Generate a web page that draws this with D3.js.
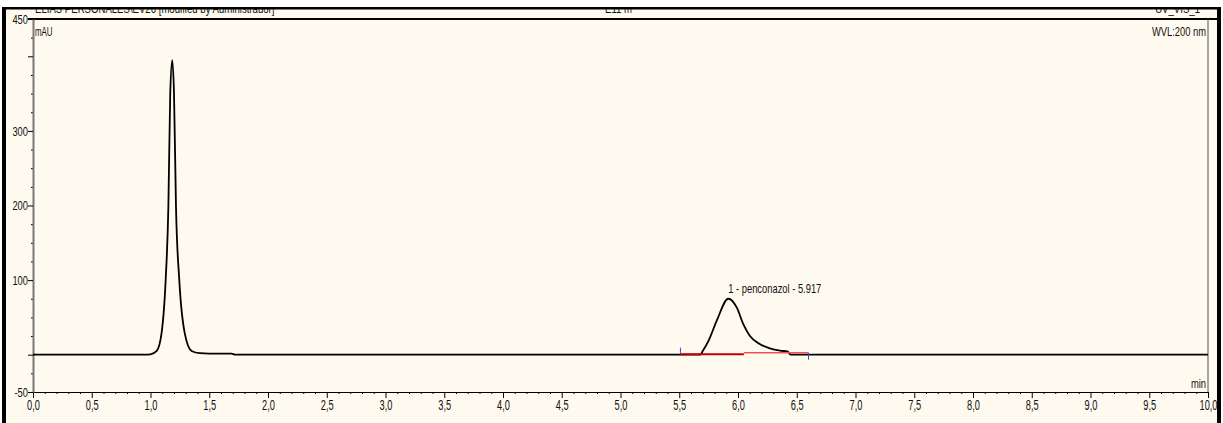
<!DOCTYPE html>
<html>
<head>
<meta charset="utf-8">
<script src="https://cdn.jsdelivr.net/npm/d3@7"></script>
<style>
  html, body { margin: 0; padding: 0; background: #ffffff; }
  svg { display: block; }
  text { font-family: "Liberation Sans", Arial, sans-serif; fill: #111; }
</style>
</head>
<body>
<svg id="chart" width="1223" height="423"></svg>
<script>
// ---- data ----
const traceTime = [0.00, 0.95, 1.00, 1.053, 1.095, 1.129, 1.152, 1.168, 1.185, 1.200, 1.217, 1.245, 1.290, 1.350, 1.420, 1.500, 1.690, 1.720,
                   5.500, 5.680, 5.700, 5.750, 5.820, 5.917, 5.990, 6.045, 6.100, 6.185, 6.270, 6.357, 6.420, 6.450, 10.00];
const traceValue = [0, 0, 0.5, 5, 30, 100, 198, 350, 395, 350, 198, 100, 30, 5, 2, 1.5, 1.5, 0,
                    0, 0, 5, 19, 46, 75, 63, 41, 25.5, 14.3, 8.6, 5.4, 4.3, 0, 0];

const peakLabel = "1 - penconazol - 5.917";
const peakTime = 5.917;
const peakHeight = 75;
const integStart = 5.51, integMid = 6.05, integEnd = 6.60;

const xMajorTicks = [0, 0.5, 1, 1.5, 2, 2.5, 3, 3.5, 4, 4.5, 5, 5.5, 6, 6.5, 7, 7.5, 8, 8.5, 9, 9.5, 10];
const xTickLabels = ["0,0","0,5","1,0","1,5","2,0","2,5","3,0","3,5","4,0","4,5","5,0","5,5","6,0","6,5","7,0","7,5","8,0","8,5","9,0","9,5","10,0"];
const yMajorTicks = [450, 400, 300, 200, 100, 0, -50];
const yTickLabels = ["450", "", "300", "200", "100", "", "-50"];

const headerLeft = "ELIAS PERSONALES\\EV26 [modified by Administrador]";
const headerMid = "E11 m";
const headerRight = "UV_VIS_1";
const yUnit = "mAU";
const xUnit = "min";
const wvl = "WVL:200 nm";

// ---- layout ----
const svg = d3.select("#chart");
const W = 1223, H = 423;
const x = d3.scaleLinear().domain([0, 10]).range([33, 1208]);
const y = d3.scaleLinear().domain([-50, 450]).range([392, 19]);

// condensed text helper: text drawn in a group, squeezed horizontally
function label(px, py, str, opts = {}) {
  const sx = opts.sx || 0.78, size = opts.size || 12;
  const g = svg.append("g").attr("transform", `translate(${px},${py}) scale(${sx},1)`);
  g.append("text").attr("x", 0).attr("y", 0).attr("font-size", size)
    .attr("text-anchor", opts.anchor || "start").attr("fill", opts.fill || "#111").text(str);
  return g;
}

// background
svg.append("rect").attr("x", 0).attr("y", 0).attr("width", W).attr("height", H).attr("fill", "#ffffff");
svg.append("rect").attr("x", 4).attr("y", 7).attr("width", 1215).attr("height", H - 7).attr("fill", "#fffaf0");

// header texts (clipped at the top by the frame)
label(35, 12.5, headerLeft, {sx: 0.8, fill: "#333"});
label(605, 12.5, headerMid, {sx: 0.8, fill: "#333"});
label(1200, 12.5, headerRight, {sx: 0.8, fill: "#333", anchor: "end"});
svg.append("rect").attr("x", 0).attr("y", 0).attr("width", W).attr("height", 7).attr("fill", "#ffffff");

// outer frame
svg.append("rect").attr("x", 2).attr("y", 7).attr("width", 1219).attr("height", 2.5).attr("fill", "#000");
svg.append("rect").attr("x", 2).attr("y", 7).attr("width", 4).attr("height", H - 7).attr("fill", "#000");
svg.append("rect").attr("x", 1217).attr("y", 7).attr("width", 4).attr("height", H - 7).attr("fill", "#000");

// plot top line
svg.append("line").attr("x1", 28).attr("x2", 1217).attr("y1", 19).attr("y2", 19)
  .attr("stroke", "#000").attr("stroke-width", 2);
// right plot border
svg.append("line").attr("x1", 1208).attr("x2", 1208).attr("y1", 19).attr("y2", 392)
  .attr("stroke", "#555").attr("stroke-width", 1);

// x axis
const xMinor = d3.range(0, 100).map(i => i / 10).filter(v => Math.abs(v * 2 - Math.round(v * 2)) > 1e-6);
svg.append("g").attr("transform", "translate(0,392)")
  .call(d3.axisBottom(x).tickValues(xMinor).tickSize(2).tickFormat(""))
  .call(g => g.select(".domain").remove())
  .call(g => g.selectAll("line").attr("stroke", "#000"));
const xAxis = svg.append("g").attr("transform", "translate(0,392)")
  .call(d3.axisBottom(x).tickValues(xMajorTicks).tickSize(6).tickSizeOuter(0)
    .tickFormat((d, i) => xTickLabels[i]));
xAxis.select(".domain").attr("stroke", "#000");
xAxis.selectAll("line").attr("stroke", "#000");
xAxis.selectAll("text").attr("font-size", 14).attr("y", 6).attr("dy", "0.85em").attr("fill", "#111")
  .attr("font-family", "\"Liberation Sans\", Arial, sans-serif")
  .attr("transform", "scale(0.66,1)");

// y axis
const yMinor = d3.range(-50, 451, 25).filter(v => v % 100 !== 0 && v !== -50 && v !== 450);
svg.append("g").attr("transform", "translate(33,0)")
  .call(d3.axisLeft(y).tickValues(yMinor).tickSize(2).tickFormat(""))
  .call(g => g.select(".domain").remove())
  .call(g => g.selectAll("line").attr("stroke", "#000"));
const yAxis = svg.append("g").attr("transform", "translate(33,0)")
  .call(d3.axisLeft(y).tickValues(yMajorTicks).tickSize(5).tickSizeOuter(0)
    .tickFormat((d, i) => yTickLabels[i]));
yAxis.select(".domain").attr("stroke", "#777").attr("stroke-width", 2);
yAxis.selectAll("line").attr("stroke", "#000");
yAxis.selectAll("text").attr("font-size", 13).attr("x", -5 / 0.72).attr("fill", "#111")
  .attr("font-family", "\"Liberation Sans\", Arial, sans-serif")
  .attr("transform", "scale(0.72,1)");

// unit labels
label(35, 36, yUnit, {sx: 0.66, size: 12});
label(1206, 36, wvl, {sx: 0.78, size: 12, anchor: "end"});
label(1206, 388, xUnit, {sx: 0.78, size: 12, anchor: "end"});

// trace
const trace = traceTime.map((t, i) => [t, traceValue[i]]);
const line = d3.line().x(d => x(d[0])).y(d => y(d[1])).curve(d3.curveMonotoneX);
svg.append("path").datum(trace).attr("d", line)
  .attr("fill", "none").attr("stroke", "#000").attr("stroke-width", 1.8);

// integration baseline
svg.append("line").attr("x1", x(integStart)).attr("x2", x(integMid)).attr("y1", y(0) - 0.5).attr("y2", y(0) - 0.5)
  .attr("stroke", "#c00000").attr("stroke-width", 2);
svg.append("line").attr("x1", x(integMid)).attr("x2", x(integEnd)).attr("y1", y(0) - 2).attr("y2", y(0) - 2)
  .attr("stroke", "#f05050").attr("stroke-width", 1.5);
svg.append("line").attr("x1", x(integStart)).attr("x2", x(integStart)).attr("y1", y(0) - 7).attr("y2", y(0) - 1)
  .attr("stroke", "#4040c0").attr("stroke-width", 1);
svg.append("line").attr("x1", x(integEnd)).attr("x2", x(integEnd)).attr("y1", y(0) - 2).attr("y2", y(0) + 5)
  .attr("stroke", "#4040c0").attr("stroke-width", 1);

// peak label
label(x(peakTime), y(peakHeight) - 6, peakLabel, {sx: 0.78, size: 12});
</script>
</body>
</html>
